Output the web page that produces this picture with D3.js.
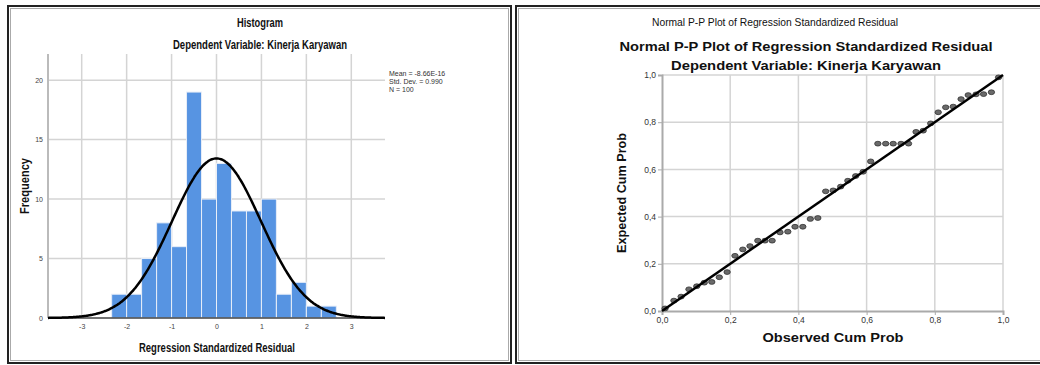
<!DOCTYPE html>
<html>
<head>
<meta charset="utf-8">
<script src="https://cdn.jsdelivr.net/npm/d3@7"></script>
<style>
  body { margin: 0; background: #fff; }
  svg { display: block; }
  .narrow { font-family: "Liberation Sans Narrow", "Arial Narrow", "Liberation Sans", Arial, sans-serif; }
  .wide { font-family: "Liberation Sans", Arial, sans-serif; }
</style>
</head>
<body>
<svg id="chart" width="1040" height="365"></svg>
<script>
// ---- histogram data
var binEdges = [-2.333, -2, -1.667, -1.333, -1, -0.667, -0.333, 0, 0.333, 0.667, 1, 1.333, 1.667, 2, 2.333, 2.667];
var histCounts = [2, 2, 5, 8, 6, 19, 10, 13, 9, 9, 10, 2, 3, 1, 1];
var histXTicks = [-3, -2, -1, 0, 1, 2, 3];
var histYTicks = [0, 5, 10, 15, 20];
var statMean = -8.66e-16, statSd = 0.990, statN = 100;
var statLines = ["Mean = -8.66E-16", "Std. Dev. = 0.990", "N = 100"];

// ---- P-P plot data
var ppObserved = [0.009, 0.035, 0.056, 0.079, 0.102, 0.124, 0.146, 0.168, 0.191, 0.214, 0.237, 0.258, 0.281, 0.302, 0.323,
                  0.346, 0.369, 0.390, 0.413, 0.435, 0.457, 0.480, 0.502, 0.524, 0.545, 0.568, 0.590, 0.612, 0.633, 0.656,
                  0.678, 0.701, 0.723, 0.745, 0.766, 0.788, 0.810, 0.832, 0.854, 0.877, 0.898, 0.921, 0.943, 0.966, 0.987];
var ppExpected = [0.011, 0.044, 0.061, 0.092, 0.105, 0.120, 0.123, 0.143, 0.165, 0.234, 0.261, 0.275, 0.298, 0.298, 0.298,
                  0.333, 0.336, 0.357, 0.357, 0.390, 0.394, 0.507, 0.511, 0.527, 0.552, 0.572, 0.590, 0.634, 0.709, 0.709,
                  0.709, 0.709, 0.709, 0.759, 0.764, 0.795, 0.842, 0.863, 0.866, 0.898, 0.915, 0.918, 0.919, 0.927, 0.990];
var ppTicks = [0, 0.2, 0.4, 0.6, 0.8, 1.0];

var svg = d3.select("#chart");
var gridColor = "#d4d4d4";
var commaFmt = d3.formatLocale({decimal: ",", thousands: ".", grouping: [3], currency: ["", ""]}).format(".1f");

// panel frames
function frame(x, y, w, h) {
    svg.append("rect").attr("x", x).attr("y", y).attr("width", w).attr("height", h)
        .attr("fill", "none").attr("stroke", "#222").attr("stroke-width", 2);
    svg.append("rect").attr("x", x + 2.5).attr("y", y + 2.5).attr("width", w - 5).attr("height", h - 5)
        .attr("fill", "none").attr("stroke", "#aaa").attr("stroke-width", 1);
}
frame(8, 6, 503, 357);
frame(516, 6, 540, 357);

// ================= histogram =================
var hx = d3.scaleLinear().domain([-3.75, 3.75]).range([48, 385]);
var hy = d3.scaleLinear().domain([0, 22.2]).range([318, 54]);
var hist = svg.append("g");

hist.append("g").selectAll("line.hg").data(histYTicks.slice(1)).enter().append("line")
    .attr("x1", hx.range()[0]).attr("x2", hx.range()[1])
    .attr("y1", d => hy(d)).attr("y2", d => hy(d))
    .attr("stroke", gridColor).attr("stroke-width", 1.5);
hist.append("g").selectAll("line.vg").data(histXTicks).enter().append("line")
    .attr("x1", d => hx(d)).attr("x2", d => hx(d))
    .attr("y1", hy.range()[1]).attr("y2", hy.range()[0])
    .attr("stroke", gridColor).attr("stroke-width", 1.5);

// y axis line
hist.append("line").attr("x1", hx.range()[0]).attr("x2", hx.range()[0])
    .attr("y1", hy.range()[1]).attr("y2", hy.range()[0])
    .attr("stroke", "#bbb").attr("stroke-width", 2);

hist.selectAll("rect.bar").data(histCounts).enter().append("rect")
    .attr("x", (d, i) => hx(binEdges[i]))
    .attr("width", (d, i) => hx(binEdges[i + 1]) - hx(binEdges[i]))
    .attr("y", d => hy(d))
    .attr("height", d => hy(0) - hy(d))
    .attr("fill", "#5794e2")
    .attr("stroke", "#e8eef8").attr("stroke-width", 1);

// x axis line
hist.append("line").attr("x1", hx.range()[0]).attr("x2", hx.range()[1])
    .attr("y1", hy(0)).attr("y2", hy(0))
    .attr("stroke", "#444").attr("stroke-width", 1.5);

// normal curve
var binW = binEdges[1] - binEdges[0];
var curveX = d3.range(-3.75, 3.7501, 0.025);
var normLine = d3.line()
    .x(d => hx(d))
    .y(d => hy(statN * binW * Math.exp(-0.5 * Math.pow((d - statMean) / statSd, 2)) / (statSd * Math.sqrt(2 * Math.PI))))
    .curve(d3.curveBasis);
hist.append("path").attr("d", normLine(curveX))
    .attr("fill", "none").attr("stroke", "#000").attr("stroke-width", 2.5);

// tick labels
var hyAxis = d3.axisLeft(hy).tickValues(histYTicks).tickSize(0).tickPadding(5);
hist.append("g").attr("transform", "translate(" + hx.range()[0] + ",0)").call(hyAxis)
    .call(g => g.select(".domain").remove())
    .selectAll("text").attr("class", "narrow").attr("font-size", 7).attr("fill", "#444");
var hxAxis = d3.axisBottom(hx).tickValues(histXTicks).tickFormat(d => String(d)).tickSize(0).tickPadding(6);
hist.append("g").attr("transform", "translate(0," + hy(0) + ")").call(hxAxis)
    .call(g => g.select(".domain").remove())
    .selectAll("text").attr("class", "narrow").attr("font-size", 7).attr("fill", "#444");

hist.append("text").attr("class", "narrow").attr("x", 260).attr("y", 27)
    .attr("text-anchor", "middle").attr("font-size", 12).attr("font-weight", "bold").attr("fill", "#111")
    .attr("textLength", 46).attr("lengthAdjust", "spacingAndGlyphs")
    .text("Histogram");
hist.append("text").attr("class", "narrow").attr("x", 260).attr("y", 49)
    .attr("text-anchor", "middle").attr("font-size", 12).attr("font-weight", "bold").attr("fill", "#111")
    .attr("textLength", 174).attr("lengthAdjust", "spacingAndGlyphs")
    .text("Dependent Variable: Kinerja Karyawan");
hist.append("text").attr("class", "narrow").attr("x", 217).attr("y", 352)
    .attr("text-anchor", "middle").attr("font-size", 12).attr("font-weight", "bold").attr("fill", "#111")
    .attr("textLength", 156).attr("lengthAdjust", "spacingAndGlyphs")
    .text("Regression Standardized Residual");
hist.append("text").attr("class", "narrow")
    .attr("transform", "translate(29,186) rotate(-90)")
    .attr("text-anchor", "middle").attr("font-size", 12).attr("font-weight", "bold").attr("fill", "#111")
    .attr("textLength", 56).attr("lengthAdjust", "spacingAndGlyphs")
    .text("Frequency");

hist.selectAll("text.stat").data(statLines).enter().append("text")
    .attr("class", "narrow").attr("x", 389).attr("y", (d, i) => 76 + i * 8)
    .attr("font-size", 7).attr("fill", "#333")
    .text(d => d);

// ================= P-P plot =================
var px = d3.scaleLinear().domain([0, 1]).range([662, 1003]);
var py = d3.scaleLinear().domain([0, 1]).range([311, 75]);
var pp = svg.append("g");

pp.append("g").selectAll("line").data(ppTicks.slice(1)).enter().append("line")
    .attr("x1", px(0)).attr("x2", px(1)).attr("y1", d => py(d)).attr("y2", d => py(d))
    .attr("stroke", gridColor).attr("stroke-width", 1.5);
pp.append("g").selectAll("line").data(ppTicks.slice(1)).enter().append("line")
    .attr("x1", d => px(d)).attr("x2", d => px(d)).attr("y1", py(0)).attr("y2", py(1))
    .attr("stroke", gridColor).attr("stroke-width", 1.5);

var pyAxis = d3.axisLeft(py).tickValues(ppTicks).tickFormat(commaFmt).tickSize(4).tickPadding(2);
pp.append("g").attr("transform", "translate(" + px(0) + ",0)").call(pyAxis)
    .call(g => g.select(".domain").attr("stroke", "#aaa").attr("stroke-width", 2))
    .call(g => g.selectAll(".tick line").attr("stroke", "#aaa"))
    .selectAll("text").attr("class", "wide").attr("font-size", 8.5).attr("fill", "#333");
var pxAxis = d3.axisBottom(px).tickValues(ppTicks).tickFormat(commaFmt).tickSize(4).tickPadding(2);
pp.append("g").attr("transform", "translate(0," + py(0) + ")").call(pxAxis)
    .call(g => g.select(".domain").attr("stroke", "#aaa").attr("stroke-width", 2))
    .call(g => g.selectAll(".tick line").attr("stroke", "#aaa"))
    .selectAll("text").attr("class", "wide").attr("font-size", 8.5).attr("fill", "#333");

pp.selectAll("ellipse").data(ppObserved).enter().append("ellipse")
    .attr("cx", d => px(d))
    .attr("cy", (d, i) => py(ppExpected[i]))
    .attr("rx", 3.2).attr("ry", 2.4)
    .attr("fill", "#6a6a6a").attr("stroke", "#333").attr("stroke-width", 0.8);

pp.append("line").attr("x1", px(0)).attr("y1", py(0)).attr("x2", px(1)).attr("y2", py(1))
    .attr("stroke", "#000").attr("stroke-width", 2.5);

pp.append("text").attr("class", "narrow").attr("x", 775).attr("y", 26)
    .attr("text-anchor", "middle").attr("font-size", 11).attr("fill", "#111")
    .attr("textLength", 246).attr("lengthAdjust", "spacingAndGlyphs")
    .text("Normal P-P Plot of Regression Standardized Residual");
pp.append("text").attr("class", "wide").attr("x", 806).attr("y", 51)
    .attr("text-anchor", "middle").attr("font-size", 12).attr("font-weight", "bold").attr("fill", "#111")
    .attr("textLength", 373).attr("lengthAdjust", "spacingAndGlyphs")
    .text("Normal P-P Plot of Regression Standardized Residual");
pp.append("text").attr("class", "wide").attr("x", 806).attr("y", 70)
    .attr("text-anchor", "middle").attr("font-size", 12).attr("font-weight", "bold").attr("fill", "#111")
    .attr("textLength", 270).attr("lengthAdjust", "spacingAndGlyphs")
    .text("Dependent Variable: Kinerja Karyawan");
pp.append("text").attr("class", "wide").attr("x", 833).attr("y", 342)
    .attr("text-anchor", "middle").attr("font-size", 12).attr("font-weight", "bold").attr("fill", "#111")
    .attr("textLength", 141).attr("lengthAdjust", "spacingAndGlyphs")
    .text("Observed Cum Prob");
pp.append("text").attr("class", "narrow")
    .attr("transform", "translate(626,193) rotate(-90)")
    .attr("text-anchor", "middle").attr("font-size", 12).attr("font-weight", "bold").attr("fill", "#111")
    .attr("textLength", 120).attr("lengthAdjust", "spacingAndGlyphs")
    .text("Expected Cum Prob");
</script>
</body>
</html>
